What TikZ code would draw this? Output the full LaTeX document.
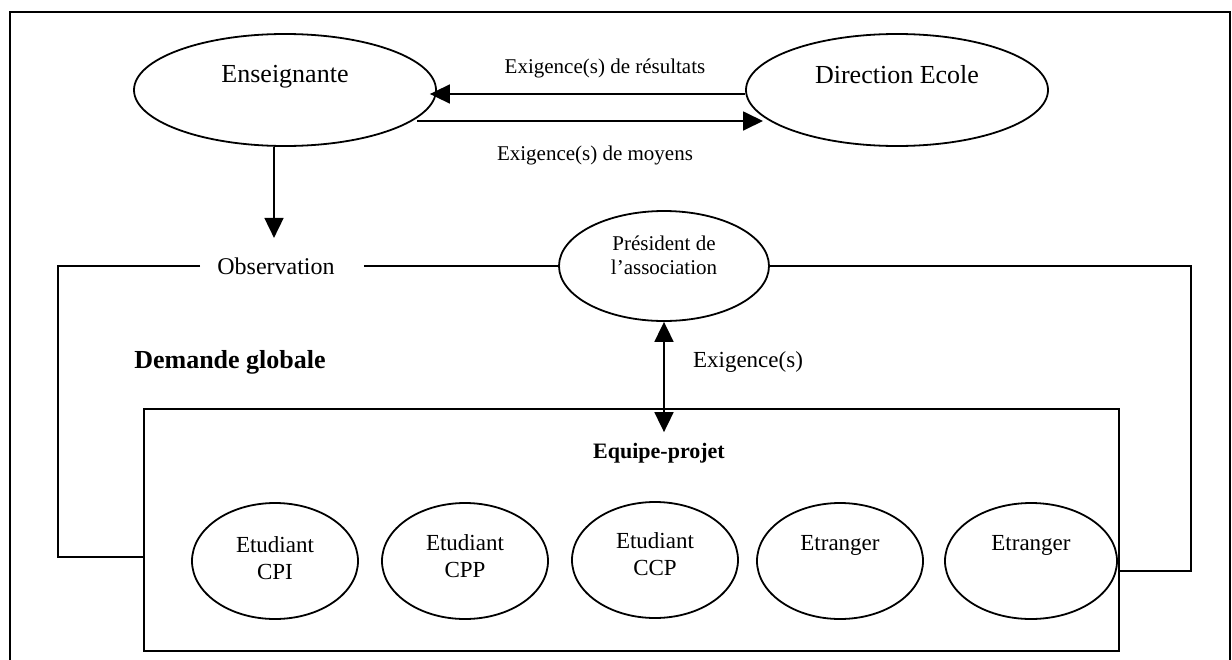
\documentclass[tikz,border=0pt]{standalone}
\usepackage{fontspec}
\setmainfont{Liberation Serif}
\usetikzlibrary{arrows.meta,shapes.geometric,calc}
\newcommand\fsBig{\fontsize{26}{30}\selectfont}
\newcommand\fsMid{\fontsize{23}{27}\selectfont}
\newcommand\fsSml{\fontsize{21}{24}\selectfont}
\begin{document}
\begin{tikzpicture}[x=1pt,y=-1pt,
  ln/.style={line width=1.8pt},
  arr/.style={line width=1.8pt,-{Triangle[length=20pt,width=19pt]}},
  darr/.style={line width=1.8pt,{Triangle[length=20pt,width=19pt]}-{Triangle[length=20pt,width=19pt]}},
  ell/.style={draw,ellipse,line width=1.8pt,inner sep=0pt},
  stud/.style={ell,minimum width=166pt,minimum height=116pt},
  txt/.style={inner sep=0pt,align=center},
]
\useasboundingbox (0,0) rectangle (1232,659);
% outer frame (bottom edge lies outside the page)
\draw[line width=1.8pt] (10,664) -- (10,12) -- (1230,12) -- (1230,664);

% top ellipses
\node[ell,minimum width=302pt,minimum height=112pt] (ens) at (285,90) {};
\node[txt,font=\fsBig] (enst) at (285,77) {Enseignante};
\node[ell,minimum width=302pt,minimum height=112pt] (dir) at (897,90) {};
\node[txt,font=\fsBig] (dirt) at (897,75) {Direction Ecole};

% arrows between them
\draw[arr] ([yshift=-4pt]dir.west) -- ([xshift=-7pt,yshift=-4pt]ens.east);
\draw[arr] ($(ens.center)+(132,31)$) -- ($(dir.center)+(-134,31)$);
\node[txt,font=\fsSml] (lres) at (605,68) {Exigence(s) de résultats};
\node[txt,font=\fsSml] (lmoy) at (595,155) {Exigence(s) de moyens};

% observation
\node[txt,font=\fontsize{24}{28}\selectfont] (obs) at (276,266) {Observation};
\draw[arr] ($(ens.south)+(-11,0)$) -- ($(ens.south)+(-11,91)$);

% president
\node[ell,minimum width=210pt,minimum height=110pt] (pres) at (664,266) {};
\node[txt,font=\fsSml] (prest) at (664,255) {Président de\\l’association};

% box
\node[draw,line width=1.8pt,minimum width=975pt,minimum height=242pt,inner sep=0pt] (box) at (631.5,530) {};
\node[txt,font=\fontsize{22}{26}\selectfont\bfseries] (eqp) at (659,453) {Equipe-projet};

% connectors
\draw[ln] ($(obs.west)+(-17,0)$) -- (58,266) |- ($(box.west)+(0,27)$);
\draw[ln] ($(obs.east)+(29,0)$) -- (pres.west);
\draw[ln] (pres.east) -- (1191,266) |- ($(box.east)+(0,41)$);
\draw[darr] (pres.south) -- ($(pres.south |- box.north)+(0,24)$);
\node[txt,font=\fsMid] (lexi) at (748,362) {Exigence(s)};
\node[txt,font=\fontsize{26}{30}\selectfont\bfseries] (dg) at (230,362) {Demande globale};

% students
\node[stud] (s1) at (275,561) {};
\node[stud] (s2) at (465,561) {};
\node[stud] (s3) at (655,560) {};
\node[stud] (s4) at (840,561) {};
\node[stud,minimum width=172pt] (s5) at (1031,561) {};
\node[txt,font=\fsMid] (s1t) at (275,558) {Etudiant\\CPI};
\node[txt,font=\fsMid] (s2t) at (465,556) {Etudiant\\CPP};
\node[txt,font=\fsMid] (s3t) at (655,554) {Etudiant\\CCP};
\node[txt,font=\fsMid] (s4t) at (840,545) {Etranger};
\node[txt,font=\fsMid] (s5t) at (1031,545) {Etranger};
\end{tikzpicture}
\end{document}
